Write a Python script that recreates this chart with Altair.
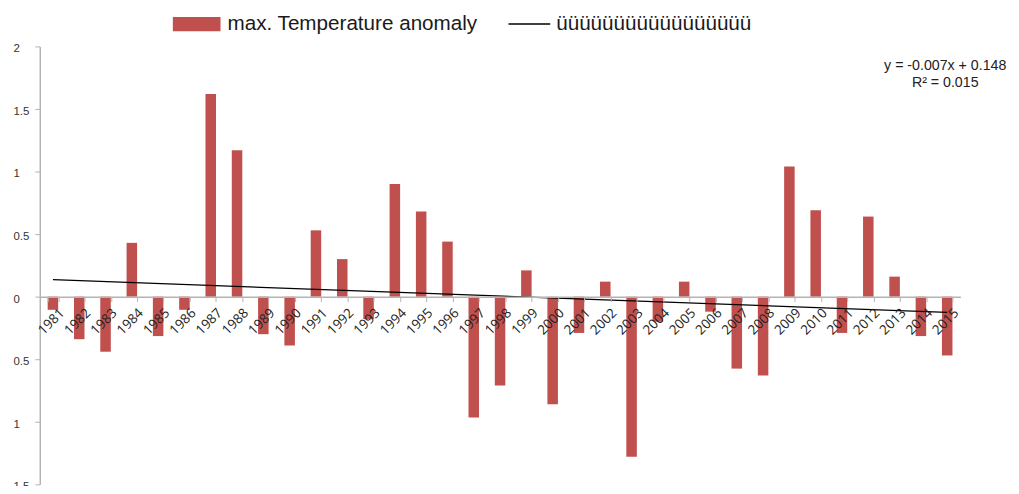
import altair as alt
import pandas as pd

# ---- data ----
years = list(range(1981, 2016))
anomaly = [-0.105, -0.34, -0.44, 0.43, -0.315, -0.105, 1.62, 1.17, -0.30, -0.39,
           0.53, 0.30, -0.18, 0.90, 0.68, 0.44, -0.965, -0.71, 0.21, -0.86,
           -0.29, 0.12, -1.28, -0.20, 0.12, -0.12, -0.575, -0.63, 1.04, 0.69,
           -0.29, 0.64, 0.16, -0.315, -0.47]
bar_label = "max. Temperature anomaly"
line_label = "üüüüüüüüüüüüüüüüü"
y_ticks = [-1.5, -1, -0.5, 0, 0.5, 1, 1.5, 2]
y_domain = [-1.5, 2]
ann_lines = ["y = -0.007x + 0.148", "R² = 0.015"]
ann_y = [1.84, 1.705]
ann_year = "2015"

df = pd.DataFrame({
    "year": years,
    "year_s": [str(y) for y in years],
    "value": anomaly,
    "series": [bar_label] * len(years),
    "series2": [line_label] * len(years),
})
ann_df = pd.DataFrame({"year_s": [ann_year] * len(ann_lines), "ay": ann_y, "text": ann_lines})

# ---- layout ----
W, H = 927, 441
AXIS_GRAY = "#b3b3b3"
BAR_RED = "#C0504D"
x_offset = -H * (0 - y_domain[0]) / (y_domain[1] - y_domain[0])

x_scale = alt.Scale(domain=[str(y) for y in years], paddingInner=0.6, paddingOuter=0.3)
y_scale = alt.Scale(domain=y_domain, nice=False)

bars = alt.Chart(df).mark_bar().encode(
    x=alt.X("year_s:N", scale=x_scale, title=None,
            axis=alt.Axis(labelAngle=315, offset=x_offset, tickBand="extent", zindex=1,
                          labelFont="Open Sans", labelFontSize=13.5, labelColor="#222",
                          domainColor=AXIS_GRAY, domainWidth=1.5, tickColor=AXIS_GRAY,
                          tickSize=5, tickWidth=1, labelPadding=4, labelOffset=4)),
    y=alt.Y("value:Q", scale=y_scale, stack=None, title=None,
            axis=alt.Axis(values=y_ticks, labelExpr="'' + abs(datum.value)",
                          labelAlign="left", labelPadding=22, labelOffset=2.5,
                          labelFont="Liberation Sans", labelFontSize=11.5, labelColor="#333",
                          domainColor=AXIS_GRAY, domainWidth=1.5, tickColor=AXIS_GRAY,
                          tickSize=5, grid=False)),
    y2=alt.datum(0),
    fill=alt.Fill("series:N", scale=alt.Scale(domain=[bar_label], range=[BAR_RED]),
                  legend=alt.Legend(orient="none", legendX=134, legendY=-46.5, title=None,
                                    padding=0, symbolType="M-1,-0.3H1V0.3H-1Z",
                                    symbolSize=2304, symbolStrokeWidth=0, labelOffset=7,
                                    labelFont="Liberation Sans", labelFontSize=20.8,
                                    labelColor="#1a1a1a", symbolOpacity=1, labelLimit=600)),
)

line = alt.Chart(df).transform_regression(
    "year", "value", groupby=["series2"]
).transform_calculate(
    year_s="toString(datum.year)"
).mark_line(strokeWidth=1.3).encode(
    x=alt.X("year_s:N", scale=x_scale),
    y=alt.Y("value:Q", scale=y_scale),
    stroke=alt.Stroke("series2:N", scale=alt.Scale(domain=[line_label], range=["#000000"]),
                      legend=alt.Legend(orient="none", legendX=471, legendY=-44.5, title=None,
                                        padding=0, symbolType="stroke", symbolSize=1764,
                                        symbolStrokeWidth=1.6, labelOffset=5,
                                        labelFont="Liberation Sans", labelFontSize=20.8,
                                        labelColor="#1a1a1a", labelLimit=600)),
)

text = alt.Chart(ann_df).mark_text(
    font="Liberation Sans", fontSize=14.3, align="center", baseline="middle", color="#222",
    dx=-2
).encode(
    x=alt.X("year_s:N", scale=x_scale),
    y=alt.Y("ay:Q", scale=y_scale),
    text="text:N",
)

chart = alt.layer(bars, line, text).properties(
    width=W, height=H,
    padding={"left": 32, "top": 37, "right": 51, "bottom": 0},
    autosize=alt.AutoSizeParams(type="none"),
).configure_view(stroke=None)

chart.save("out.html", embed_options={"renderer": "svg", "actions": False})
